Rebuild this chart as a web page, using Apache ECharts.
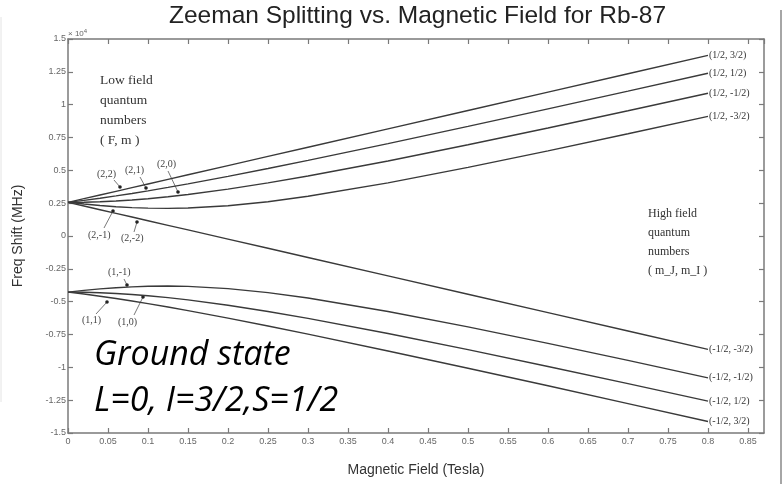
<!DOCTYPE html>
<html>
<head>
<meta charset="utf-8">
<script src="https://cdn.jsdelivr.net/npm/echarts@6/dist/echarts.min.js"></script>
<style>
html,body{margin:0;padding:0;background:#fff;}
#chart{width:782px;height:484px;}
</style>
</head>
<body>
<div id="chart"></div>
<script>
// Magnetic field (Tesla)
var fieldB = [0, 0.02, 0.04, 0.06, 0.08, 0.1, 0.125, 0.15, 0.2, 0.25, 0.3, 0.4, 0.5, 0.6, 0.7, 0.8];
// Frequency shift, units of 1e4 MHz
var s_half_p3 = [0.2563,0.2843,0.3123,0.3402,0.3682,0.3962,0.4312,0.4662,0.5361,0.6061,0.6760,0.8159,0.9559,1.0958,1.2357,1.3756];
var s_half_p1 = [0.2563,0.2711,0.2875,0.3051,0.3239,0.3438,0.3698,0.3969,0.4539,0.5137,0.5755,0.7032,0.8346,0.9681,1.1032,1.2393];
var s_half_m1 = [0.2563,0.2574,0.2609,0.2665,0.2742,0.2839,0.2986,0.3158,0.3566,0.4041,0.4565,0.5712,0.6944,0.8225,0.9537,1.0870];
var s_half_m3 = [0.2563,0.2432,0.2321,0.2231,0.2164,0.2122,0.2107,0.2133,0.2304,0.2611,0.3022,0.4046,0.5224,0.6481,0.7783,0.9113];
var s_mhalf_m3 = [0.2563,0.2283,0.2003,0.1724,0.1444,0.1164,0.0814,0.0464,-0.0235,-0.0935,-0.1634,-0.3033,-0.4433,-0.5832,-0.7231,-0.8630];
var s_mhalf_m1 = [-0.4272,-0.4140,-0.4028,-0.3937,-0.3870,-0.3828,-0.3812,-0.3838,-0.4007,-0.4313,-0.4722,-0.5744,-0.6918,-0.8173,-0.9473,-1.0800];
var s_mhalf_p1 = [-0.4272,-0.4283,-0.4317,-0.4374,-0.4451,-0.4548,-0.4695,-0.4867,-0.5275,-0.5749,-0.6273,-0.7421,-0.8652,-0.9933,-1.1245,-1.2578];
var s_mhalf_p3 = [-0.4272,-0.4420,-0.4584,-0.4762,-0.4950,-0.5149,-0.5410,-0.5682,-0.6253,-0.6853,-0.7472,-0.8752,-1.0068,-1.1406,-1.2760,-1.4124];
var seriesNames = ['(1/2, 3/2)','(1/2, 1/2)','(1/2, -1/2)','(1/2, -3/2)','(-1/2, -3/2)','(-1/2, -1/2)','(-1/2, 1/2)','(-1/2, 3/2)'];
var seriesValues = [s_half_p3, s_half_p1, s_half_m1, s_half_m3, s_mhalf_m3, s_mhalf_m1, s_mhalf_p1, s_mhalf_p3];

var chart = echarts.init(document.getElementById('chart'), null, {renderer:'canvas'});
var axisCol = '#7a7a7a';
var lineCol = '#3a3a3a';

var series = seriesValues.map(function(vals, i){
  return {
    type:'line', name: seriesNames[i], xAxisIndex:0, yAxisIndex:0,
    data: fieldB.map(function(b, j){ return [b, vals[j]]; }),
    showSymbol:false, symbol:'none', smooth:false,
    lineStyle:{color:lineCol, width:1.4},
    endLabel:{show:true, formatter: seriesNames[i], fontFamily:'Liberation Serif', fontSize:10, color:'#333', distance:1},
    animation:false, silent:true
  };
});

function fmtY(v){
  var r = Math.round(v*100)/100;
  return String(r);
}

var serif = 'Liberation Serif';
var annFont = {fontFamily:serif, fontSize:10, fill:'#444'};
function annText(x,y,t){ return {type:'text', left:x, top:y, style:Object.assign({text:t}, annFont)}; }
function annLine(x1,y1,x2,y2){ return {type:'line', shape:{x1:x1,y1:y1,x2:x2,y2:y2}, style:{stroke:'#555', lineWidth:0.8}}; }
function annDot(x,y){ return {type:'circle', shape:{cx:x,cy:y,r:1.8}, style:{fill:'#222'}}; }

var axLine = {show:true, onZero:false, lineStyle:{color:axisCol, width:1.5}};
var axTick = {show:true, inside:true, length:5, lineStyle:{color:axisCol, width:1.2}};

var option = {
  backgroundColor:'#fff',
  animation:false,
  title:{text:'Zeeman Splitting vs. Magnetic Field for Rb-87', left:164, top:-1,
    textStyle:{fontFamily:'Liberation Sans', fontSize:24.5, fontWeight:'normal', color:'#222'}},
  grid:{left:68, right:18, top:39, bottom:51, containLabel:false},
  xAxis:[{
    type:'value', min:0, max:0.87, interval:0.05, position:'bottom',
    name:'Magnetic Field (Tesla)', nameLocation:'middle', nameGap:30,
    nameTextStyle:{fontFamily:'Liberation Sans', fontSize:14, color:'#333'},
    axisLine:axLine, axisTick:axTick,
    axisLabel:{fontFamily:'Liberation Sans', fontSize:9, color:'#666', margin:4, showMaxLabel:false,
      formatter:function(v){ var r=Math.round(v*100)/100; if (Math.abs(r*20-Math.round(r*20))>1e-6) return ''; return String(r);} },
    splitLine:{show:false}
  },{
    type:'value', min:0, max:0.87, interval:0.05, position:'top',
    axisLine:axLine, axisTick:axTick,
    axisLabel:{show:false}, splitLine:{show:false}
  }],
  yAxis:[{
    type:'value', min:-1.5, max:1.5, interval:0.25, position:'left',
    name:'Freq Shift (MHz)', nameLocation:'middle', nameGap:43, nameRotate:90,
    nameTextStyle:{fontFamily:'Liberation Sans', fontSize:14, color:'#333'},
    axisLine:axLine, axisTick:axTick,
    axisLabel:{fontFamily:'Liberation Sans', fontSize:9, color:'#666', margin:2, formatter:fmtY},
    splitLine:{show:false}
  },{
    type:'value', min:-1.5, max:1.5, interval:0.25, position:'right',
    axisLine:axLine, axisTick:axTick,
    axisLabel:{show:false}, splitLine:{show:false}
  }],
  series: series,
  graphic:[
    {type:'text', left:68, top:28, style:{rich:{a:{fontFamily:'Liberation Sans', fontSize:8, fill:'#666'}, s:{fontFamily:'Liberation Sans', fontSize:6, fill:'#666', verticalAlign:'top', padding:[0,0,6,0]}}, text:'{a|\u00d7 10}{s|4}'}},
    {type:'text', left:100, top:70, style:{text:'Low field\nquantum\nnumbers\n( F, m )', fontFamily:serif, fontSize:13.5, lineHeight:20, fill:'#333'}},
    {type:'text', left:648, top:204, style:{text:'High field\nquantum\nnumbers\n( m_J, m_I )', fontFamily:serif, fontSize:12, lineHeight:19, fill:'#333'}},
    {type:'text', left:94, top:338, style:{text:'Ground state', fontFamily:'Open Sans', fontStyle:'italic', fontSize:34, lineHeight:34, fill:'#000'}},
    {type:'text', left:94, top:384, style:{text:'L=0, I=3/2,S=1/2', fontFamily:'Open Sans', fontStyle:'italic', fontSize:34, lineHeight:34, fill:'#000'}},
    annText(97,169,'(2,2)'), annLine(114,180,120,187), annDot(120,187),
    annText(125,165,'(2,1)'), annLine(140,177,146,188), annDot(146,188),
    annText(157,159,'(2,0)'), annLine(168,171,178,192), annDot(178,192),
    annText(88,230,'(2,-1)'), annLine(104,228,113,211), annDot(113,211),
    annText(121,233,'(2,-2)'), annLine(134,232,137,222), annDot(137,222),
    annText(108,267,'(1,-1)'), annLine(124,279,127,285), annDot(127,285),
    annText(82,315,'(1,1)'), annLine(96,314,107,302), annDot(107,302),
    annText(118,317,'(1,0)'), annLine(134,315,143,297), annDot(143,297),
    {type:'line', shape:{x1:781, y1:10, x2:781, y2:484}, style:{stroke:'#888', lineWidth:1.5}},
    {type:'line', shape:{x1:1, y1:17, x2:1, y2:402}, style:{stroke:'#e4e4e4', lineWidth:1}}
  ]
};
chart.setOption(option);
</script>
</body>
</html>
